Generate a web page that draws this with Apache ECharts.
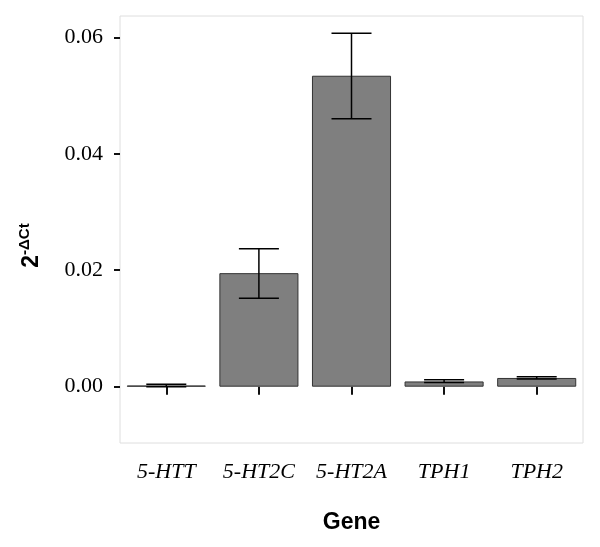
<!DOCTYPE html>
<html>
<head>
<meta charset="utf-8">
<script src="https://cdn.jsdelivr.net/npm/echarts@6/dist/echarts.min.js"></script>
<style>html,body{margin:0;padding:0;background:#fff}#c{width:600px;height:547px}</style>
</head>
<body>
<div id="c"></div>
<script>
const genes = ['5-HTT', '5-HT2C', '5-HT2A', 'TPH1', 'TPH2'];
const means = [0.0002, 0.0195, 0.0534, 0.0009, 0.0015];
const errLow = [0.0000, 0.0152, 0.0460, 0.0007, 0.0013];
const errHigh = [0.0004, 0.0237, 0.0607, 0.0012, 0.0017];
const yTicks = [0, 0.02, 0.04, 0.06];

const chart = echarts.init(document.getElementById('c'), null, {renderer: 'canvas'});
chart.setOption({
  animation: false,
  backgroundColor: '#fff',
  grid: {left: 120, top: 16, right: 17, bottom: 104, containLabel: false, outerBoundsMode: 'none',
    show: true, borderColor: '#dedede', borderWidth: 1, backgroundColor: '#fff'},
  xAxis: {
    type: 'category',
    data: genes,
    boundaryGap: true,
    name: 'Gene',
    nameLocation: 'middle',
    nameGap: 68,
    nameTextStyle: {fontFamily: 'Liberation Sans', fontWeight: 'bold', fontSize: 23, color: '#000'},
    axisLine: {show: false},
    axisTick: {show: true, interval: 0, alignWithLabel: true, length: 8, lineStyle: {color: '#111', width: 2}},
    axisLabel: {interval: 0, hideOverlap: false, margin: 18, fontFamily: 'Liberation Serif', fontStyle: 'italic', fontSize: 22, color: '#000'},
    splitLine: {show: false}
  },
  yAxis: {
    type: 'value',
    min: -0.00967,
    max: 0.06366,
    name: '{b|2}{s|-ΔCt}',
    nameLocation: 'middle',
    nameGap: 74,
    nameRotate: 90,
    nameTextStyle: {
      padding: [0, 32, 0, 0],
      rich: {
        b: {fontFamily: 'Liberation Sans', fontWeight: 'bold', fontSize: 23, color: '#000'},
        s: {fontFamily: 'Liberation Sans', fontWeight: 'bold', fontSize: 15, color: '#000', padding: [0, 0, 14, 0]}
      }
    },
    axisLine: {show: false},
    axisTick: {show: true, length: 6, lineStyle: {color: '#111', width: 2}, customValues: yTicks},
    axisLabel: {margin: 17, fontFamily: 'Liberation Serif', fontSize: 22, color: '#000', customValues: yTicks,
      formatter: v => v.toFixed(2)},
    splitLine: {show: false}
  },
  series: [
    {
      type: 'bar',
      data: means,
      barCategoryGap: '14.6%',
      itemStyle: {color: '#7f7f7f', borderColor: '#333', borderWidth: 1}
    },
    {
      type: 'custom',
      data: genes.map((g, i) => [i, errLow[i], errHigh[i]]),
      encode: {x: 0, y: [1, 2]},
      z: 5,
      renderItem: function (params, api) {
        const i = api.value(0);
        const lo = api.coord([i, api.value(1)]);
        const hi = api.coord([i, api.value(2)]);
        const hw = api.size([1, 0])[0] * 0.216;
        const st = {stroke: '#000', lineWidth: 1.5};
        return {
          type: 'group',
          children: [
            {type: 'line', shape: {x1: hi[0], y1: hi[1], x2: lo[0], y2: lo[1]}, style: st},
            {type: 'line', shape: {x1: hi[0] - hw, y1: hi[1], x2: hi[0] + hw, y2: hi[1]}, style: st},
            {type: 'line', shape: {x1: lo[0] - hw, y1: lo[1], x2: lo[0] + hw, y2: lo[1]}, style: st}
          ]
        };
      }
    }
  ]
});
</script>
</body>
</html>
